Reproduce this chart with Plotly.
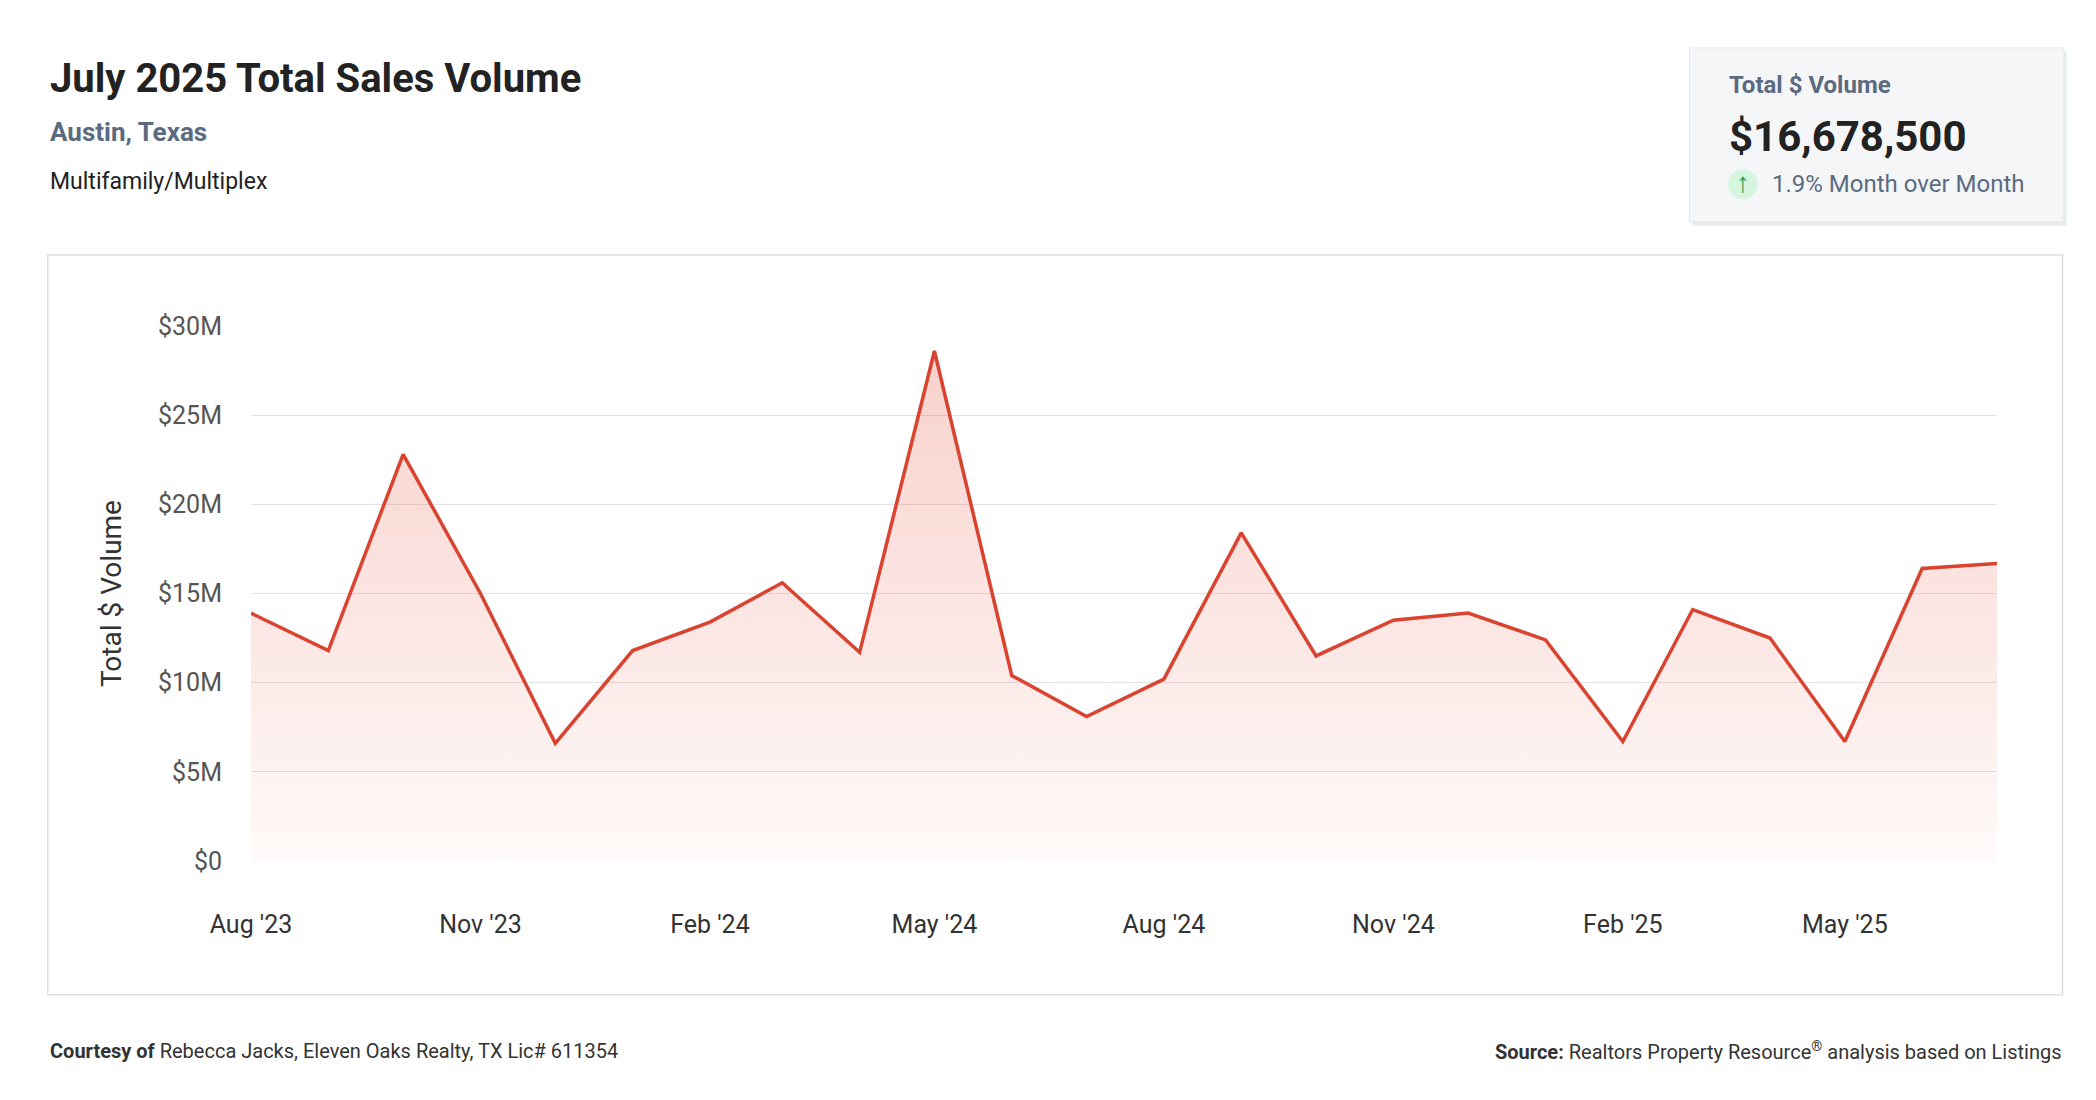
import plotly.graph_objects as go

W, H = 2096, 1100
S = W / 1568  # reference drawn at 1568 px wide

months = ["2023-08", "2023-09", "2023-10", "2023-11", "2023-12", "2024-01", "2024-02",
          "2024-03", "2024-04", "2024-05", "2024-06", "2024-07", "2024-08", "2024-09",
          "2024-10", "2024-11", "2024-12", "2025-01", "2025-02", "2025-03", "2025-04",
          "2025-05", "2025-06", "2025-07"]
volume = [13.9, 11.8, 22.8, 15.0, 6.6, 11.8, 13.4, 15.6, 11.7, 28.6, 10.4, 8.1,
          10.2, 18.4, 11.5, 13.5, 13.9, 12.4, 6.7, 14.1, 12.5, 6.7, 16.4, 16.6785]
volume = [v * 1e6 for v in volume]
tick_vals = ["2023-08-01", "2023-11-01", "2024-02-01", "2024-05-01", "2024-08-01",
             "2024-11-01", "2025-02-01", "2025-05-01"]
tick_text = ["Aug '23", "Nov '23", "Feb '24", "May '24", "Aug '24", "Nov '24", "Feb '25", "May '25"]
y_ticks = [0, 5e6, 10e6, 15e6, 20e6, 25e6, 30e6]
y_text = ["$0", "$5M", "$10M", "$15M", "$20M", "$25M", "$30M"]

# plot area in reference pixels
L, R, T, B = 182 * S, 1488 * S, 238 * S, 638 * S


def px(x):
    return (x * S - L) / (R - L)


def py(y):
    return (B - y * S) / (B - T)


fig = go.Figure()
fig.add_trace(go.Scatter(
    x=[m + "-01" for m in months], y=volume, mode="lines",
    line=dict(color="#d9432f", width=3.5),
    fill="tozeroy",
    fillgradient=dict(type="vertical",
                      colorscale=[[0, "rgba(231,90,70,0.03)"], [1, "rgba(231,90,70,0.28)"]]),
    hoverinfo="x+y",
))

fig.update_layout(
    width=W, height=H, showlegend=False,
    plot_bgcolor="white", paper_bgcolor="white",
    font=dict(family="Roboto", color="#333"),
    margin=dict(l=L, r=W - R, t=T, b=H - B),
)
fig.update_xaxes(type="date", range=["2023-08-01", "2025-07-01"], tickvals=tick_vals,
                 ticktext=tick_text, showgrid=False, zeroline=False, ticks="",
                 tickfont=dict(size=25, color="#333"), ticklabelstandoff=46)
fig.update_yaxes(range=[0, 30e6], tickvals=y_ticks, ticktext=y_text, showgrid=True,
                 gridcolor="#e3e3e3", gridwidth=1.3, zeroline=False,
                 tickfont=dict(size=25, color="#555"), ticklabelstandoff=28,
                 title=dict(text="Total $ Volume", font=dict(size=28, color="#333"), standoff=28))

shapes = [
    dict(type="rect", xref="paper", yref="paper", x0=px(30), x1=px(1537), y0=py(738), y1=py(185),
         line=dict(color="#dcdfe3", width=1.5), fillcolor="rgba(0,0,0,0)", layer="below"),
    dict(type="rect", xref="paper", yref="paper", x0=px(1260), x1=px(1540), y0=py(163), y1=py(33),
         line=dict(width=0), fillcolor="#e9ebee", layer="below"),
    dict(type="rect", xref="paper", yref="paper", x0=px(1258), x1=px(1538), y0=py(160), y1=py(30),
         line=dict(color="#e6e8eb", width=1), fillcolor="#f5f6f8", layer="below"),
    dict(type="circle", xref="paper", yref="paper", x0=px(1287), x1=px(1309), y0=py(143), y1=py(121),
         line=dict(width=0), fillcolor="#d5f5df"),
]
fig.update_layout(shapes=shapes)


def note(x, y, text, size, color="#222", xanchor="left"):
    fig.add_annotation(xref="paper", yref="paper", x=px(x), y=py(y), text=text, showarrow=False,
                       xanchor=xanchor, yanchor="middle", font=dict(size=size, color=color))


note(30, 53, "<b>July 2025 Total Sales Volume</b>", 40, "#222")
note(30, 93, "<b>Austin, Texas</b>", 26, "#5a6b80")
note(30, 130, "Multifamily/Multiplex", 23, "#222")
note(1286, 58, "<b>Total $ Volume</b>", 24, "#5a6b80")
note(1286, 96, "<b>$16,678,500</b>", 42, "#222")
note(1298, 131, "<b>↑</b>", 28, "#1f9d55", xanchor="center")
note(1318, 132, "1.9% Month over Month", 24, "#5a6b80")
note(30, 780, "<b>Courtesy of</b> Rebecca Jacks, Eleven Oaks Realty, TX Lic# 611354", 20, "#333")
note(1538, 780, "<b>Source:</b> Realtors Property Resource<sup>®</sup> analysis based on Listings", 20,
     "#333", xanchor="right")

fig.write_html("out.html")
